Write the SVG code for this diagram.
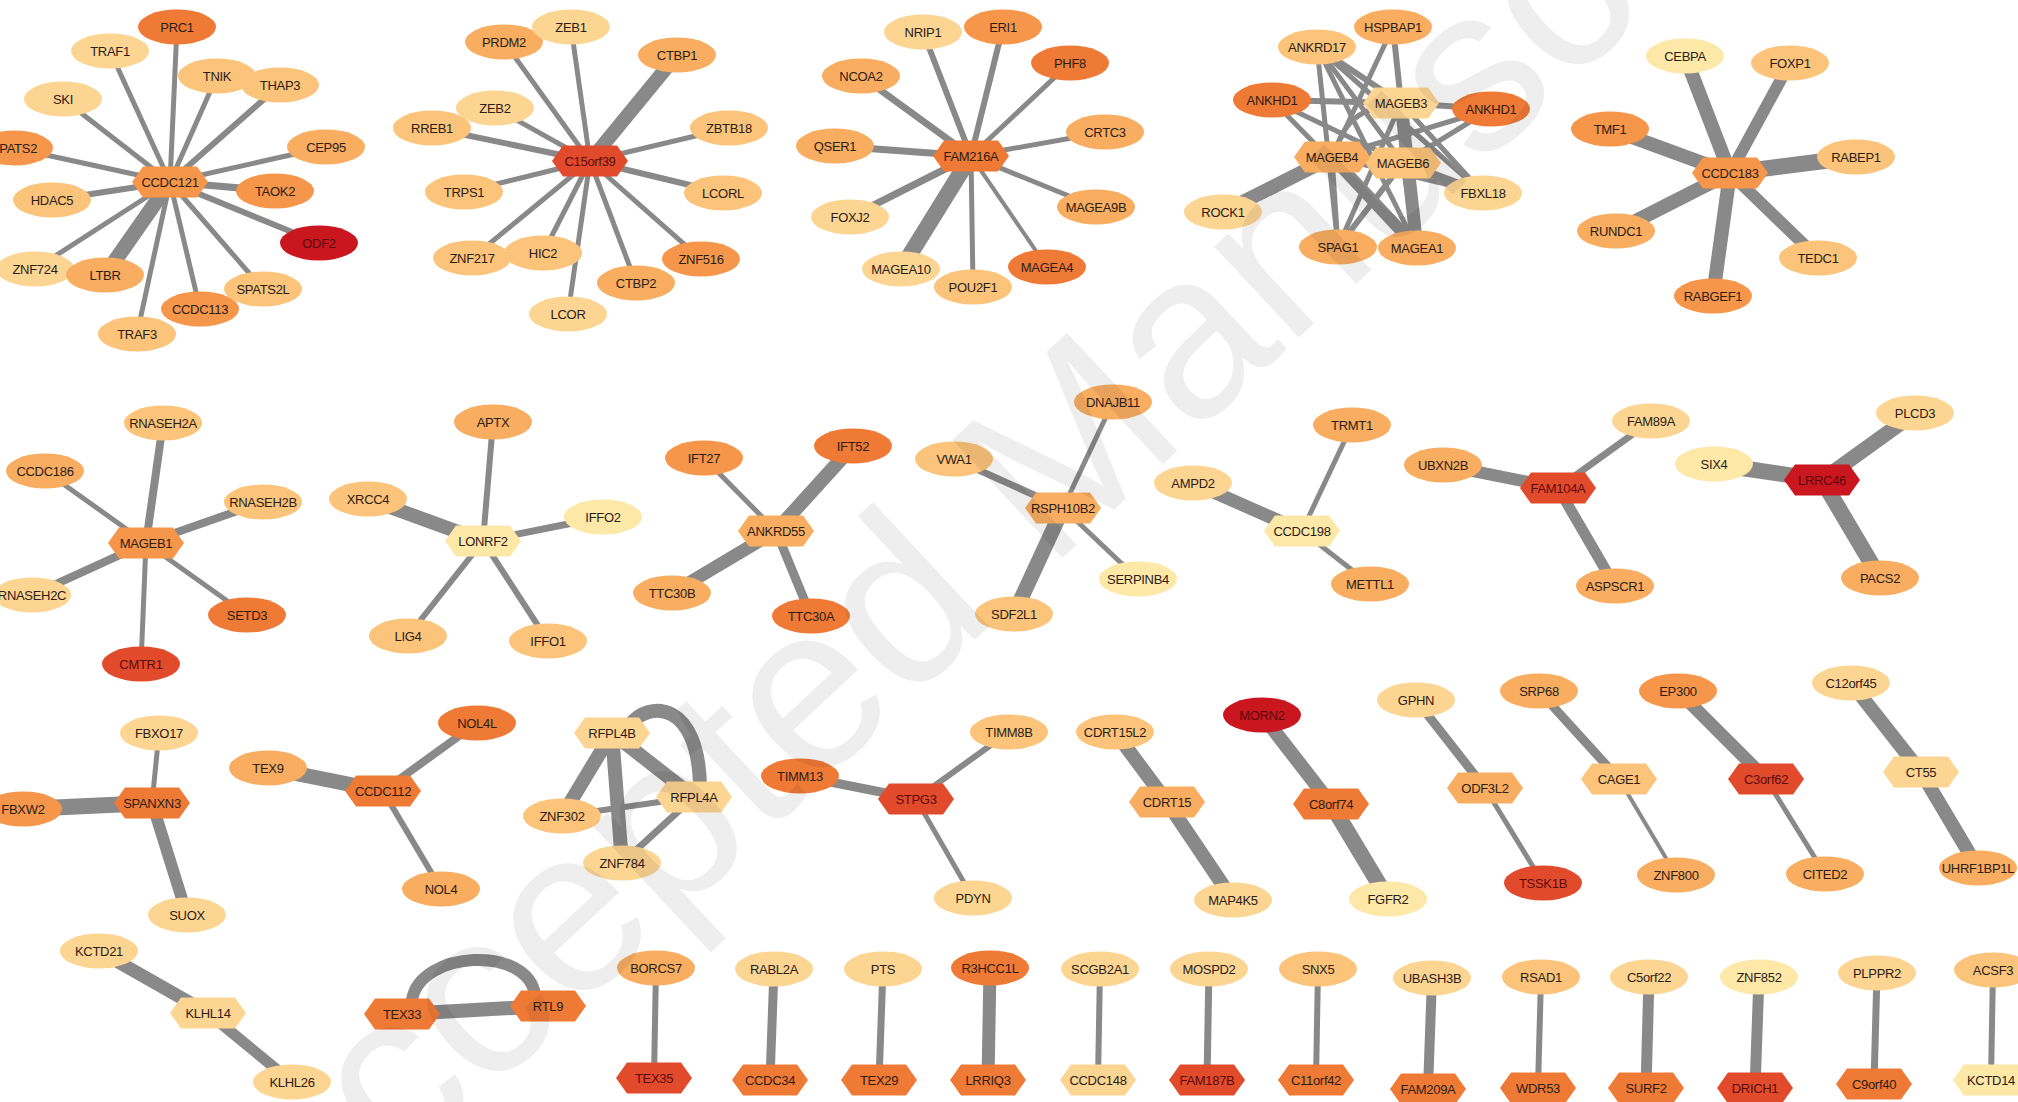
<svg xmlns="http://www.w3.org/2000/svg" xmlns:xlink="http://www.w3.org/1999/xlink" width="2018" height="1102" viewBox="0 0 2018 1102">
<style>
text{font-family:"Liberation Sans",Arial,Helvetica,sans-serif;font-size:13px;letter-spacing:-0.3px;text-anchor:middle;dominant-baseline:central;fill:#2b2018}
text.dk{fill:#5a0c0c}
#edges line,#edges path{stroke:#898989;fill:none}
.c1{fill:#FDE8A8}.c2{fill:#FDD592}.c3{fill:#FBC47A}.c4{fill:#F8AD61}
.c5{fill:#F6964A}.c6{fill:#EF7A36}.c7{fill:#E24A2C}.c8{fill:#C9161F}
.wm{font-size:235px;letter-spacing:0;text-anchor:start;dominant-baseline:auto;fill:#000;fill-opacity:0.065}
</style>
<defs>
<ellipse id="el" rx="39" ry="17.5"/>
<polygon id="hx" points="-38,0 -27,-15.5 27,-15.5 38,0 27,15.5 -27,15.5"/>
</defs>
<rect width="2018" height="1102" fill="#fff"/>

<g id="edges">
<!-- CCDC121 star -->
<line x1="170" y1="182" x2="177" y2="27" stroke-width="5"/>
<line x1="170" y1="182" x2="110" y2="51" stroke-width="5"/>
<line x1="170" y1="182" x2="217" y2="76" stroke-width="5"/>
<line x1="170" y1="182" x2="280" y2="85" stroke-width="6"/>
<line x1="170" y1="182" x2="63" y2="99" stroke-width="5"/>
<line x1="170" y1="182" x2="14" y2="148" stroke-width="5"/>
<line x1="170" y1="182" x2="326" y2="147" stroke-width="5"/>
<line x1="170" y1="182" x2="52" y2="200" stroke-width="6"/>
<line x1="170" y1="182" x2="275" y2="191" stroke-width="7"/>
<line x1="170" y1="182" x2="319" y2="243" stroke-width="6"/>
<line x1="170" y1="182" x2="35" y2="269" stroke-width="5"/>
<line x1="170" y1="182" x2="105" y2="275" stroke-width="15"/>
<line x1="170" y1="182" x2="263" y2="289" stroke-width="5"/>
<line x1="170" y1="182" x2="200" y2="309" stroke-width="5"/>
<line x1="170" y1="182" x2="137" y2="334" stroke-width="5"/>
<!-- C15orf39 star -->
<line x1="590" y1="161" x2="504" y2="42" stroke-width="5"/>
<line x1="590" y1="161" x2="571" y2="27" stroke-width="5"/>
<line x1="590" y1="161" x2="677" y2="55" stroke-width="14"/>
<line x1="590" y1="161" x2="495" y2="108" stroke-width="5"/>
<line x1="590" y1="161" x2="432" y2="128" stroke-width="6"/>
<line x1="590" y1="161" x2="729" y2="128" stroke-width="5"/>
<line x1="590" y1="161" x2="464" y2="192" stroke-width="5"/>
<line x1="590" y1="161" x2="723" y2="193" stroke-width="6"/>
<line x1="590" y1="161" x2="472" y2="258" stroke-width="5"/>
<line x1="590" y1="161" x2="543" y2="253" stroke-width="5"/>
<line x1="590" y1="161" x2="701" y2="259" stroke-width="5"/>
<line x1="590" y1="161" x2="636" y2="283" stroke-width="5"/>
<line x1="590" y1="161" x2="568" y2="314" stroke-width="5"/>
<!-- FAM216A star -->
<line x1="971" y1="156" x2="923" y2="32" stroke-width="6"/>
<line x1="971" y1="156" x2="1003" y2="27" stroke-width="6"/>
<line x1="971" y1="156" x2="861" y2="76" stroke-width="7"/>
<line x1="971" y1="156" x2="1070" y2="63" stroke-width="5"/>
<line x1="971" y1="156" x2="835" y2="146" stroke-width="7"/>
<line x1="971" y1="156" x2="1105" y2="132" stroke-width="5"/>
<line x1="971" y1="156" x2="850" y2="217" stroke-width="7"/>
<line x1="971" y1="156" x2="1096" y2="207" stroke-width="5"/>
<line x1="971" y1="156" x2="901" y2="269" stroke-width="16"/>
<line x1="971" y1="156" x2="973" y2="287" stroke-width="5"/>
<line x1="971" y1="156" x2="1047" y2="267" stroke-width="4"/>
<!-- MAGE-B mesh -->
<line x1="1223" y1="212" x2="1332" y2="157" stroke-width="14"/>
<line x1="1272" y1="100" x2="1401" y2="103" stroke-width="6"/>
<line x1="1272" y1="100" x2="1403" y2="163" stroke-width="5"/>
<line x1="1272" y1="100" x2="1417" y2="248" stroke-width="5"/>
<line x1="1317" y1="47" x2="1401" y2="103" stroke-width="6"/>
<line x1="1317" y1="47" x2="1338" y2="247" stroke-width="5"/>
<line x1="1317" y1="47" x2="1403" y2="163" stroke-width="5"/>
<line x1="1317" y1="47" x2="1483" y2="193" stroke-width="5"/>
<line x1="1317" y1="47" x2="1417" y2="248" stroke-width="5"/>
<line x1="1393" y1="27" x2="1401" y2="103" stroke-width="6"/>
<line x1="1393" y1="27" x2="1332" y2="157" stroke-width="5"/>
<line x1="1401" y1="103" x2="1417" y2="248" stroke-width="13"/>
<path d="M1335,152 Q1348,104 1398,106" stroke-width="5"/>
<line x1="1401" y1="103" x2="1403" y2="163" stroke-width="6"/>
<line x1="1401" y1="103" x2="1338" y2="247" stroke-width="5"/>
<line x1="1401" y1="103" x2="1483" y2="193" stroke-width="5"/>
<line x1="1491" y1="109" x2="1401" y2="103" stroke-width="6"/>
<line x1="1491" y1="109" x2="1332" y2="157" stroke-width="5"/>
<line x1="1491" y1="109" x2="1403" y2="163" stroke-width="5"/>
<line x1="1332" y1="157" x2="1403" y2="163" stroke-width="8"/>
<line x1="1332" y1="157" x2="1417" y2="248" stroke-width="12"/>
<line x1="1332" y1="157" x2="1338" y2="247" stroke-width="5"/>
<line x1="1332" y1="157" x2="1483" y2="193" stroke-width="5"/>
<line x1="1403" y1="163" x2="1483" y2="193" stroke-width="8"/>
<line x1="1403" y1="163" x2="1338" y2="247" stroke-width="6"/>
<line x1="1403" y1="163" x2="1417" y2="248" stroke-width="6"/>
<!-- CCDC183 star -->
<line x1="1730" y1="173" x2="1685" y2="56" stroke-width="14"/>
<line x1="1730" y1="173" x2="1790" y2="63" stroke-width="12"/>
<line x1="1730" y1="173" x2="1610" y2="129" stroke-width="14"/>
<line x1="1730" y1="173" x2="1856" y2="157" stroke-width="16"/>
<line x1="1730" y1="173" x2="1616" y2="231" stroke-width="14"/>
<line x1="1730" y1="173" x2="1818" y2="258" stroke-width="12"/>
<line x1="1730" y1="173" x2="1713" y2="296" stroke-width="14"/>
<!-- MAGEB1 star -->
<line x1="146" y1="543" x2="163" y2="423" stroke-width="8"/>
<line x1="146" y1="543" x2="45" y2="471" stroke-width="5"/>
<line x1="146" y1="543" x2="263" y2="502" stroke-width="8"/>
<line x1="146" y1="543" x2="32" y2="595" stroke-width="8"/>
<line x1="146" y1="543" x2="247" y2="615" stroke-width="5"/>
<line x1="146" y1="543" x2="141" y2="664" stroke-width="5"/>
<!-- LONRF2 star -->
<line x1="483" y1="541" x2="493" y2="422" stroke-width="6"/>
<line x1="483" y1="541" x2="368" y2="499" stroke-width="14"/>
<line x1="483" y1="541" x2="603" y2="517" stroke-width="7"/>
<line x1="483" y1="541" x2="408" y2="636" stroke-width="6"/>
<line x1="483" y1="541" x2="548" y2="641" stroke-width="6"/>
<!-- ANKRD55 star -->
<line x1="776" y1="531" x2="704" y2="458" stroke-width="5"/>
<line x1="776" y1="531" x2="853" y2="446" stroke-width="14"/>
<line x1="776" y1="531" x2="672" y2="593" stroke-width="13"/>
<line x1="776" y1="531" x2="811" y2="616" stroke-width="9"/>
<!-- RSPH10B2 star -->
<line x1="1063" y1="508" x2="1113" y2="402" stroke-width="5"/>
<line x1="1063" y1="508" x2="954" y2="459" stroke-width="7"/>
<line x1="1063" y1="508" x2="1138" y2="579" stroke-width="5"/>
<line x1="1063" y1="508" x2="1014" y2="614" stroke-width="15"/>
<!-- CCDC198 star -->
<line x1="1302" y1="531" x2="1193" y2="483" stroke-width="13"/>
<line x1="1302" y1="531" x2="1352" y2="425" stroke-width="5"/>
<line x1="1302" y1="531" x2="1370" y2="584" stroke-width="5"/>
<!-- FAM104A star -->
<line x1="1558" y1="488" x2="1443" y2="465" stroke-width="12"/>
<line x1="1558" y1="488" x2="1651" y2="421" stroke-width="7"/>
<line x1="1558" y1="488" x2="1615" y2="586" stroke-width="11"/>
<!-- LRRC46 star -->
<line x1="1822" y1="480" x2="1714" y2="464" stroke-width="16"/>
<line x1="1822" y1="480" x2="1915" y2="413" stroke-width="15"/>
<line x1="1822" y1="480" x2="1880" y2="578" stroke-width="16"/>
<!-- SPANXN3 star -->
<line x1="152" y1="803" x2="159" y2="733" stroke-width="5"/>
<line x1="152" y1="803" x2="23" y2="809" stroke-width="16"/>
<line x1="152" y1="803" x2="187" y2="915" stroke-width="12"/>
<!-- CCDC112 star -->
<line x1="383" y1="791" x2="268" y2="768" stroke-width="15"/>
<line x1="383" y1="791" x2="477" y2="723" stroke-width="8"/>
<line x1="383" y1="791" x2="441" y2="889" stroke-width="6"/>
<!-- KLHL14 chain -->
<line x1="208" y1="1013" x2="99" y2="951" stroke-width="13"/>
<line x1="208" y1="1013" x2="292" y2="1082" stroke-width="11"/>
<!-- TEX33 / RTL9 -->
<line x1="402" y1="1014" x2="548" y2="1006" stroke-width="14"/>
<path d="M412,1000 C420,950 528,945 535,995" stroke-width="12"/>
<!-- RFPL cluster -->
<line x1="612" y1="733" x2="562" y2="816" stroke-width="14"/>
<line x1="612" y1="733" x2="622" y2="863" stroke-width="14"/>
<line x1="612" y1="733" x2="694" y2="797" stroke-width="14"/>
<path d="M630,725 C648,700 700,700 700,790" stroke-width="14"/>
<line x1="562" y1="816" x2="694" y2="797" stroke-width="6"/>
<line x1="622" y1="863" x2="694" y2="797" stroke-width="7"/>
<!-- STPG3 star -->
<line x1="916" y1="799" x2="800" y2="776" stroke-width="9"/>
<line x1="916" y1="799" x2="1009" y2="732" stroke-width="6"/>
<line x1="916" y1="799" x2="973" y2="898" stroke-width="5"/>
<!-- three-node chains -->
<line x1="1167" y1="802" x2="1115" y2="732" stroke-width="14"/>
<line x1="1167" y1="802" x2="1233" y2="900" stroke-width="14"/>
<line x1="1331" y1="804" x2="1262" y2="715" stroke-width="14"/>
<line x1="1331" y1="804" x2="1388" y2="899" stroke-width="16"/>
<line x1="1485" y1="788" x2="1416" y2="700" stroke-width="9"/>
<line x1="1485" y1="788" x2="1543" y2="883" stroke-width="5"/>
<line x1="1619" y1="779" x2="1539" y2="691" stroke-width="9"/>
<line x1="1619" y1="779" x2="1676" y2="875" stroke-width="4"/>
<line x1="1766" y1="779" x2="1678" y2="691" stroke-width="13"/>
<line x1="1766" y1="779" x2="1825" y2="874" stroke-width="5"/>
<line x1="1921" y1="772" x2="1851" y2="683" stroke-width="14"/>
<line x1="1921" y1="772" x2="1978" y2="868" stroke-width="14"/>
<!-- pairs -->
<line x1="656" y1="968" x2="654" y2="1078" stroke-width="6"/>
<line x1="774" y1="969" x2="770" y2="1080" stroke-width="9"/>
<line x1="883" y1="969" x2="879" y2="1080" stroke-width="7"/>
<line x1="990" y1="968" x2="988" y2="1080" stroke-width="13"/>
<line x1="1100" y1="969" x2="1098" y2="1080" stroke-width="6"/>
<line x1="1209" y1="969" x2="1207" y2="1080" stroke-width="7"/>
<line x1="1318" y1="969" x2="1316" y2="1080" stroke-width="6"/>
<line x1="1432" y1="978" x2="1428" y2="1089" stroke-width="10"/>
<line x1="1541" y1="977" x2="1538" y2="1088" stroke-width="6"/>
<line x1="1649" y1="977" x2="1646" y2="1088" stroke-width="11"/>
<line x1="1759" y1="977" x2="1755" y2="1088" stroke-width="11"/>
<line x1="1877" y1="973" x2="1874" y2="1084" stroke-width="7"/>
<line x1="1993" y1="970" x2="1991" y2="1080" stroke-width="6"/>
</g>

<!-- CCDC121 cluster -->
<g id="n-CCDC121" transform="translate(170,182)"><use href="#hx" class="c5"/><text>CCDC121</text></g>
<g id="n-PRC1" transform="translate(177,27)"><use href="#el" class="c6"/><text>PRC1</text></g>
<g id="n-TRAF1" transform="translate(110,51)"><use href="#el" class="c2"/><text>TRAF1</text></g>
<g id="n-TNIK" transform="translate(217,76)"><use href="#el" class="c3"/><text>TNIK</text></g>
<g id="n-THAP3" transform="translate(280,85)"><use href="#el" class="c3"/><text>THAP3</text></g>
<g id="n-SKI" transform="translate(63,99)"><use href="#el" class="c2"/><text>SKI</text></g>
<g id="n-SPATS2" transform="translate(14,148)"><use href="#el" class="c5"/><text>SPATS2</text></g>
<g id="n-CEP95" transform="translate(326,147)"><use href="#el" class="c4"/><text>CEP95</text></g>
<g id="n-HDAC5" transform="translate(52,200)"><use href="#el" class="c3"/><text>HDAC5</text></g>
<g id="n-TAOK2" transform="translate(275,191)"><use href="#el" class="c5"/><text>TAOK2</text></g>
<g id="n-ODF2" transform="translate(319,243)"><use href="#el" class="c8"/><text class="dk">ODF2</text></g>
<g id="n-ZNF724" transform="translate(35,269)"><use href="#el" class="c2"/><text>ZNF724</text></g>
<g id="n-LTBR" transform="translate(105,275)"><use href="#el" class="c4"/><text>LTBR</text></g>
<g id="n-SPATS2L" transform="translate(263,289)"><use href="#el" class="c3"/><text>SPATS2L</text></g>
<g id="n-CCDC113" transform="translate(200,309)"><use href="#el" class="c5"/><text>CCDC113</text></g>
<g id="n-TRAF3" transform="translate(137,334)"><use href="#el" class="c3"/><text>TRAF3</text></g>

<!-- C15orf39 cluster -->
<g id="n-C15orf39" transform="translate(590,161)"><use href="#hx" class="c7"/><text class="dk">C15orf39</text></g>
<g id="n-PRDM2" transform="translate(504,42)"><use href="#el" class="c4"/><text>PRDM2</text></g>
<g id="n-ZEB1" transform="translate(571,27)"><use href="#el" class="c2"/><text>ZEB1</text></g>
<g id="n-CTBP1" transform="translate(677,55)"><use href="#el" class="c4"/><text>CTBP1</text></g>
<g id="n-ZEB2" transform="translate(495,108)"><use href="#el" class="c2"/><text>ZEB2</text></g>
<g id="n-RREB1" transform="translate(432,128)"><use href="#el" class="c3"/><text>RREB1</text></g>
<g id="n-ZBTB18" transform="translate(729,128)"><use href="#el" class="c3"/><text>ZBTB18</text></g>
<g id="n-TRPS1" transform="translate(464,192)"><use href="#el" class="c3"/><text>TRPS1</text></g>
<g id="n-LCORL" transform="translate(723,193)"><use href="#el" class="c3"/><text>LCORL</text></g>
<g id="n-ZNF217" transform="translate(472,258)"><use href="#el" class="c3"/><text>ZNF217</text></g>
<g id="n-HIC2" transform="translate(543,253)"><use href="#el" class="c3"/><text>HIC2</text></g>
<g id="n-ZNF516" transform="translate(701,259)"><use href="#el" class="c5"/><text>ZNF516</text></g>
<g id="n-CTBP2" transform="translate(636,283)"><use href="#el" class="c4"/><text>CTBP2</text></g>
<g id="n-LCOR" transform="translate(568,314)"><use href="#el" class="c2"/><text>LCOR</text></g>

<!-- FAM216A cluster -->
<g id="n-FAM216A" transform="translate(971,156)"><use href="#hx" class="c6"/><text>FAM216A</text></g>
<g id="n-NRIP1" transform="translate(923,32)"><use href="#el" class="c2"/><text>NRIP1</text></g>
<g id="n-ERI1" transform="translate(1003,27)"><use href="#el" class="c5"/><text>ERI1</text></g>
<g id="n-NCOA2" transform="translate(861,76)"><use href="#el" class="c4"/><text>NCOA2</text></g>
<g id="n-PHF8" transform="translate(1070,63)"><use href="#el" class="c6"/><text>PHF8</text></g>
<g id="n-QSER1" transform="translate(835,146)"><use href="#el" class="c4"/><text>QSER1</text></g>
<g id="n-CRTC3" transform="translate(1105,132)"><use href="#el" class="c4"/><text>CRTC3</text></g>
<g id="n-FOXJ2" transform="translate(850,217)"><use href="#el" class="c2"/><text>FOXJ2</text></g>
<g id="n-MAGEA9B" transform="translate(1096,207)"><use href="#el" class="c4"/><text>MAGEA9B</text></g>
<g id="n-MAGEA10" transform="translate(901,269)"><use href="#el" class="c2"/><text>MAGEA10</text></g>
<g id="n-POU2F1" transform="translate(973,287)"><use href="#el" class="c3"/><text>POU2F1</text></g>
<g id="n-MAGEA4" transform="translate(1047,267)"><use href="#el" class="c6"/><text>MAGEA4</text></g>

<!-- MAGE-B cluster -->
<g id="n-ROCK1" transform="translate(1223,212)"><use href="#el" class="c2"/><text>ROCK1</text></g>
<g id="n-ANKHD1-a" transform="translate(1272,100)"><use href="#el" class="c6"/><text>ANKHD1</text></g>
<g id="n-ANKRD17" transform="translate(1317,47)"><use href="#el" class="c3"/><text>ANKRD17</text></g>
<g id="n-HSPBAP1" transform="translate(1393,27)"><use href="#el" class="c4"/><text>HSPBAP1</text></g>
<g id="n-ANKHD1-b" transform="translate(1491,109)"><use href="#el" class="c6"/><text>ANKHD1</text></g>
<g id="n-FBXL18" transform="translate(1483,193)"><use href="#el" class="c2"/><text>FBXL18</text></g>
<g id="n-SPAG1" transform="translate(1338,247)"><use href="#el" class="c4"/><text>SPAG1</text></g>
<g id="n-MAGEA1" transform="translate(1417,248)"><use href="#el" class="c4"/><text>MAGEA1</text></g>
<g id="n-MAGEB3" transform="translate(1401,103)"><use href="#hx" class="c2"/><text>MAGEB3</text></g>
<g id="n-MAGEB6" transform="translate(1403,163)"><use href="#hx" class="c3"/><text>MAGEB6</text></g>
<g id="n-MAGEB4" transform="translate(1332,157)"><use href="#hx" class="c4"/><text>MAGEB4</text></g>

<!-- CCDC183 cluster -->
<g id="n-CCDC183" transform="translate(1730,173)"><use href="#hx" class="c5"/><text>CCDC183</text></g>
<g id="n-CEBPA" transform="translate(1685,56)"><use href="#el" class="c1"/><text>CEBPA</text></g>
<g id="n-FOXP1" transform="translate(1790,63)"><use href="#el" class="c3"/><text>FOXP1</text></g>
<g id="n-TMF1" transform="translate(1610,129)"><use href="#el" class="c5"/><text>TMF1</text></g>
<g id="n-RABEP1" transform="translate(1856,157)"><use href="#el" class="c3"/><text>RABEP1</text></g>
<g id="n-RUNDC1" transform="translate(1616,231)"><use href="#el" class="c4"/><text>RUNDC1</text></g>
<g id="n-TEDC1" transform="translate(1818,258)"><use href="#el" class="c3"/><text>TEDC1</text></g>
<g id="n-RABGEF1" transform="translate(1713,296)"><use href="#el" class="c5"/><text>RABGEF1</text></g>

<!-- MAGEB1 cluster -->
<g id="n-MAGEB1" transform="translate(146,543)"><use href="#hx" class="c5"/><text>MAGEB1</text></g>
<g id="n-RNASEH2A" transform="translate(163,423)"><use href="#el" class="c3"/><text>RNASEH2A</text></g>
<g id="n-CCDC186" transform="translate(45,471)"><use href="#el" class="c4"/><text>CCDC186</text></g>
<g id="n-RNASEH2B" transform="translate(263,502)"><use href="#el" class="c3"/><text>RNASEH2B</text></g>
<g id="n-RNASEH2C" transform="translate(32,595)"><use href="#el" class="c2"/><text>RNASEH2C</text></g>
<g id="n-SETD3" transform="translate(247,615)"><use href="#el" class="c6"/><text>SETD3</text></g>
<g id="n-CMTR1" transform="translate(141,664)"><use href="#el" class="c7"/><text class="dk">CMTR1</text></g>

<!-- LONRF2 cluster -->
<g id="n-LONRF2" transform="translate(483,541)"><use href="#hx" class="c1"/><text>LONRF2</text></g>
<g id="n-APTX" transform="translate(493,422)"><use href="#el" class="c4"/><text>APTX</text></g>
<g id="n-XRCC4" transform="translate(368,499)"><use href="#el" class="c3"/><text>XRCC4</text></g>
<g id="n-IFFO2" transform="translate(603,517)"><use href="#el" class="c1"/><text>IFFO2</text></g>
<g id="n-LIG4" transform="translate(408,636)"><use href="#el" class="c3"/><text>LIG4</text></g>
<g id="n-IFFO1" transform="translate(548,641)"><use href="#el" class="c3"/><text>IFFO1</text></g>

<!-- ANKRD55 cluster -->
<g id="n-ANKRD55" transform="translate(776,531)"><use href="#hx" class="c4"/><text>ANKRD55</text></g>
<g id="n-IFT27" transform="translate(704,458)"><use href="#el" class="c5"/><text>IFT27</text></g>
<g id="n-IFT52" transform="translate(853,446)"><use href="#el" class="c6"/><text>IFT52</text></g>
<g id="n-TTC30B" transform="translate(672,593)"><use href="#el" class="c4"/><text>TTC30B</text></g>
<g id="n-TTC30A" transform="translate(811,616)"><use href="#el" class="c6"/><text>TTC30A</text></g>

<!-- RSPH10B2 cluster -->
<g id="n-RSPH10B2" transform="translate(1063,508)"><use href="#hx" class="c4"/><text>RSPH10B2</text></g>
<g id="n-DNAJB11" transform="translate(1113,402)"><use href="#el" class="c4"/><text>DNAJB11</text></g>
<g id="n-VWA1" transform="translate(954,459)"><use href="#el" class="c3"/><text>VWA1</text></g>
<g id="n-SERPINB4" transform="translate(1138,579)"><use href="#el" class="c1"/><text>SERPINB4</text></g>
<g id="n-SDF2L1" transform="translate(1014,614)"><use href="#el" class="c3"/><text>SDF2L1</text></g>

<!-- CCDC198 cluster -->
<g id="n-CCDC198" transform="translate(1302,531)"><use href="#hx" class="c1"/><text>CCDC198</text></g>
<g id="n-AMPD2" transform="translate(1193,483)"><use href="#el" class="c2"/><text>AMPD2</text></g>
<g id="n-TRMT1" transform="translate(1352,425)"><use href="#el" class="c4"/><text>TRMT1</text></g>
<g id="n-METTL1" transform="translate(1370,584)"><use href="#el" class="c4"/><text>METTL1</text></g>

<!-- FAM104A cluster -->
<g id="n-FAM104A" transform="translate(1558,488)"><use href="#hx" class="c7"/><text class="dk">FAM104A</text></g>
<g id="n-UBXN2B" transform="translate(1443,465)"><use href="#el" class="c4"/><text>UBXN2B</text></g>
<g id="n-FAM89A" transform="translate(1651,421)"><use href="#el" class="c2"/><text>FAM89A</text></g>
<g id="n-ASPSCR1" transform="translate(1615,586)"><use href="#el" class="c4"/><text>ASPSCR1</text></g>

<!-- LRRC46 cluster -->
<g id="n-LRRC46" transform="translate(1822,480)"><use href="#hx" class="c8"/><text class="dk">LRRC46</text></g>
<g id="n-SIX4" transform="translate(1714,464)"><use href="#el" class="c1"/><text>SIX4</text></g>
<g id="n-PLCD3" transform="translate(1915,413)"><use href="#el" class="c2"/><text>PLCD3</text></g>
<g id="n-PACS2" transform="translate(1880,578)"><use href="#el" class="c4"/><text>PACS2</text></g>

<!-- SPANXN3 cluster -->
<g id="n-SPANXN3" transform="translate(152,803)"><use href="#hx" class="c6"/><text>SPANXN3</text></g>
<g id="n-FBXO17" transform="translate(159,733)"><use href="#el" class="c2"/><text>FBXO17</text></g>
<g id="n-FBXW2" transform="translate(23,809)"><use href="#el" class="c5"/><text>FBXW2</text></g>
<g id="n-SUOX" transform="translate(187,915)"><use href="#el" class="c2"/><text>SUOX</text></g>

<!-- CCDC112 cluster -->
<g id="n-CCDC112" transform="translate(383,791)"><use href="#hx" class="c6"/><text>CCDC112</text></g>
<g id="n-TEX9" transform="translate(268,768)"><use href="#el" class="c4"/><text>TEX9</text></g>
<g id="n-NOL4L" transform="translate(477,723)"><use href="#el" class="c6"/><text>NOL4L</text></g>
<g id="n-NOL4" transform="translate(441,889)"><use href="#el" class="c4"/><text>NOL4</text></g>

<!-- KLHL14 chain -->
<g id="n-KLHL14" transform="translate(208,1013)"><use href="#hx" class="c2"/><text>KLHL14</text></g>
<g id="n-KCTD21" transform="translate(99,951)"><use href="#el" class="c2"/><text>KCTD21</text></g>
<g id="n-KLHL26" transform="translate(292,1082)"><use href="#el" class="c2"/><text>KLHL26</text></g>

<!-- TEX33 / RTL9 -->
<g id="n-TEX33" transform="translate(402,1014)"><use href="#hx" class="c6"/><text>TEX33</text></g>
<g id="n-RTL9" transform="translate(548,1006)"><use href="#hx" class="c6"/><text>RTL9</text></g>

<!-- RFPL cluster -->
<g id="n-RFPL4B" transform="translate(612,733)"><use href="#hx" class="c2"/><text>RFPL4B</text></g>
<g id="n-RFPL4A" transform="translate(694,797)"><use href="#hx" class="c2"/><text>RFPL4A</text></g>
<g id="n-ZNF302" transform="translate(562,816)"><use href="#el" class="c3"/><text>ZNF302</text></g>
<g id="n-ZNF784" transform="translate(622,863)"><use href="#el" class="c2"/><text>ZNF784</text></g>

<!-- STPG3 cluster -->
<g id="n-STPG3" transform="translate(916,799)"><use href="#hx" class="c7"/><text class="dk">STPG3</text></g>
<g id="n-TIMM13" transform="translate(800,776)"><use href="#el" class="c6"/><text>TIMM13</text></g>
<g id="n-TIMM8B" transform="translate(1009,732)"><use href="#el" class="c3"/><text>TIMM8B</text></g>
<g id="n-PDYN" transform="translate(973,898)"><use href="#el" class="c2"/><text>PDYN</text></g>

<!-- three-node chains -->
<g id="n-CDRT15L2" transform="translate(1115,732)"><use href="#el" class="c3"/><text>CDRT15L2</text></g>
<g id="n-CDRT15" transform="translate(1167,802)"><use href="#hx" class="c4"/><text>CDRT15</text></g>
<g id="n-MAP4K5" transform="translate(1233,900)"><use href="#el" class="c2"/><text>MAP4K5</text></g>
<g id="n-MORN2" transform="translate(1262,715)"><use href="#el" class="c8"/><text class="dk">MORN2</text></g>
<g id="n-C8orf74" transform="translate(1331,804)"><use href="#hx" class="c6"/><text>C8orf74</text></g>
<g id="n-FGFR2" transform="translate(1388,899)"><use href="#el" class="c1"/><text>FGFR2</text></g>
<g id="n-GPHN" transform="translate(1416,700)"><use href="#el" class="c2"/><text>GPHN</text></g>
<g id="n-ODF3L2" transform="translate(1485,788)"><use href="#hx" class="c4"/><text>ODF3L2</text></g>
<g id="n-TSSK1B" transform="translate(1543,883)"><use href="#el" class="c7"/><text class="dk">TSSK1B</text></g>
<g id="n-SRP68" transform="translate(1539,691)"><use href="#el" class="c4"/><text>SRP68</text></g>
<g id="n-CAGE1" transform="translate(1619,779)"><use href="#hx" class="c3"/><text>CAGE1</text></g>
<g id="n-ZNF800" transform="translate(1676,875)"><use href="#el" class="c4"/><text>ZNF800</text></g>
<g id="n-EP300" transform="translate(1678,691)"><use href="#el" class="c5"/><text>EP300</text></g>
<g id="n-C3orf62" transform="translate(1766,779)"><use href="#hx" class="c7"/><text class="dk">C3orf62</text></g>
<g id="n-CITED2" transform="translate(1825,874)"><use href="#el" class="c4"/><text>CITED2</text></g>
<g id="n-C12orf45" transform="translate(1851,683)"><use href="#el" class="c2"/><text>C12orf45</text></g>
<g id="n-CT55" transform="translate(1921,772)"><use href="#hx" class="c2"/><text>CT55</text></g>
<g id="n-UHRF1BP1L" transform="translate(1978,868)"><use href="#el" class="c4"/><text>UHRF1BP1L</text></g>

<!-- pairs -->
<g id="n-BORCS7" transform="translate(656,968)"><use href="#el" class="c4"/><text>BORCS7</text></g>
<g id="n-TEX35" transform="translate(654,1078)"><use href="#hx" class="c7"/><text class="dk">TEX35</text></g>
<g id="n-RABL2A" transform="translate(774,969)"><use href="#el" class="c2"/><text>RABL2A</text></g>
<g id="n-CCDC34" transform="translate(770,1080)"><use href="#hx" class="c6"/><text>CCDC34</text></g>
<g id="n-PTS" transform="translate(883,969)"><use href="#el" class="c2"/><text>PTS</text></g>
<g id="n-TEX29" transform="translate(879,1080)"><use href="#hx" class="c6"/><text>TEX29</text></g>
<g id="n-R3HCC1L" transform="translate(990,968)"><use href="#el" class="c6"/><text>R3HCC1L</text></g>
<g id="n-LRRIQ3" transform="translate(988,1080)"><use href="#hx" class="c6"/><text>LRRIQ3</text></g>
<g id="n-SCGB2A1" transform="translate(1100,969)"><use href="#el" class="c2"/><text>SCGB2A1</text></g>
<g id="n-CCDC148" transform="translate(1098,1080)"><use href="#hx" class="c2"/><text>CCDC148</text></g>
<g id="n-MOSPD2" transform="translate(1209,969)"><use href="#el" class="c2"/><text>MOSPD2</text></g>
<g id="n-FAM187B" transform="translate(1207,1080)"><use href="#hx" class="c7"/><text class="dk">FAM187B</text></g>
<g id="n-SNX5" transform="translate(1318,969)"><use href="#el" class="c3"/><text>SNX5</text></g>
<g id="n-C11orf42" transform="translate(1316,1080)"><use href="#hx" class="c6"/><text>C11orf42</text></g>
<g id="n-UBASH3B" transform="translate(1432,978)"><use href="#el" class="c2"/><text>UBASH3B</text></g>
<g id="n-FAM209A" transform="translate(1428,1089)"><use href="#hx" class="c6"/><text>FAM209A</text></g>
<g id="n-RSAD1" transform="translate(1541,977)"><use href="#el" class="c3"/><text>RSAD1</text></g>
<g id="n-WDR53" transform="translate(1538,1088)"><use href="#hx" class="c6"/><text>WDR53</text></g>
<g id="n-C5orf22" transform="translate(1649,977)"><use href="#el" class="c2"/><text>C5orf22</text></g>
<g id="n-SURF2" transform="translate(1646,1088)"><use href="#hx" class="c6"/><text>SURF2</text></g>
<g id="n-ZNF852" transform="translate(1759,977)"><use href="#el" class="c1"/><text>ZNF852</text></g>
<g id="n-DRICH1" transform="translate(1755,1088)"><use href="#hx" class="c7"/><text class="dk">DRICH1</text></g>
<g id="n-PLPPR2" transform="translate(1877,973)"><use href="#el" class="c2"/><text>PLPPR2</text></g>
<g id="n-C9orf40" transform="translate(1874,1084)"><use href="#hx" class="c6"/><text>C9orf40</text></g>
<g id="n-ACSF3" transform="translate(1993,970)"><use href="#el" class="c3"/><text>ACSF3</text></g>
<g id="n-KCTD14" transform="translate(1991,1080)"><use href="#hx" class="c1"/><text>KCTD14</text></g>

<!-- diagonal watermark -->
<text class="wm" transform="translate(284,1284) rotate(-43)">Accepted Manuscript</text>
</svg>
